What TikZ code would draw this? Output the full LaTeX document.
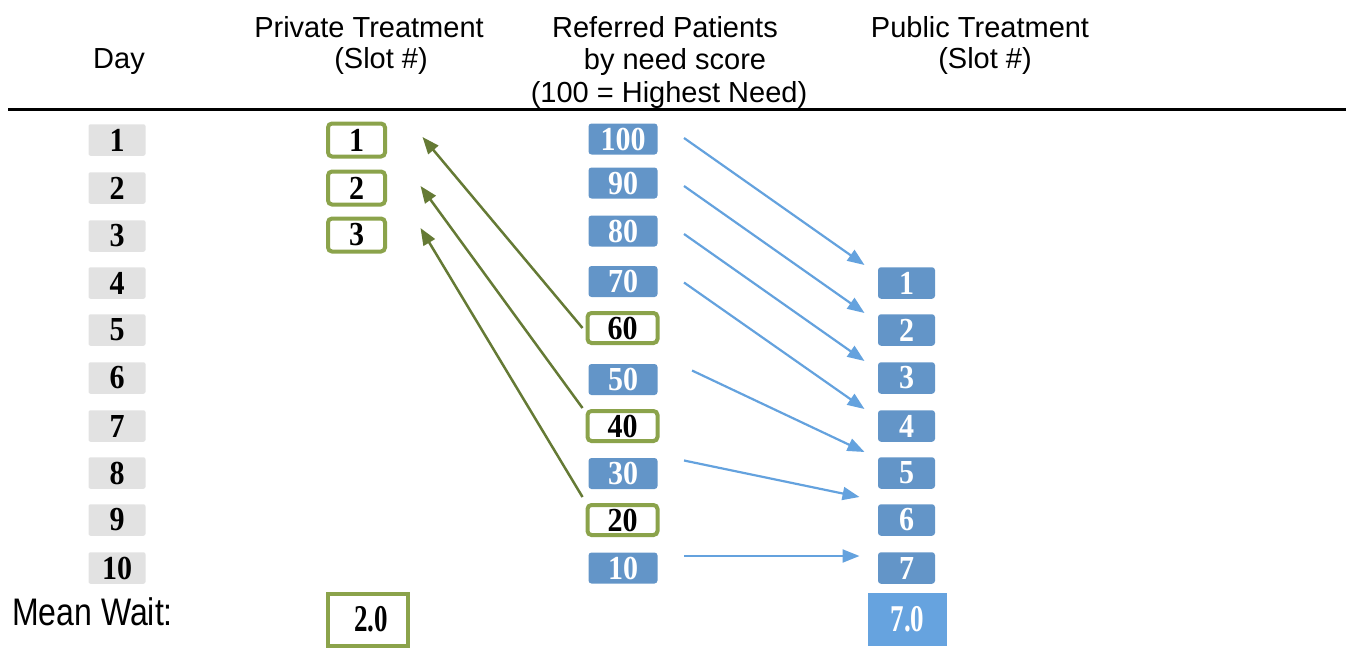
\documentclass[tikz,border=0pt]{standalone}
\usepackage{graphicx}
\usepackage{fontspec}
\setmainfont{Liberation Sans}
\newfontfamily\numf{Liberation Serif}
\usetikzlibrary{calc,arrows.meta}
\definecolor{daygray}{HTML}{E2E2E2}
\definecolor{grn}{HTML}{8BA34B}
\definecolor{grnarrow}{HTML}{657A35}
\definecolor{blu}{HTML}{6395C8}
\definecolor{bluarrow}{HTML}{64A2DE}
\definecolor{blumean}{HTML}{66A3DF}
\newcommand\vs[1]{\scalebox{1}[1.12]{#1}}
\newcommand\vm[1]{\scalebox{1}[1.4]{#1}}
\begin{document}
\begin{tikzpicture}[x=1pt,y=-1pt,
  hdr/.style={font=\fontsize{29}{33}\selectfont, inner sep=0pt, anchor=base},
  numtxt/.style={font=\numf\bfseries\fontsize{30}{30}\selectfont, inner sep=0pt},
  dayb/.style={numtxt, fill=daygray, rounded corners=2pt, minimum width=57pt, minimum height=31.5pt},
  privb/.style={numtxt, draw=grn, line width=4pt, fill=white, rounded corners=4pt, minimum width=57pt, minimum height=33pt},
  refb/.style={numtxt, fill=blu, text=white, rounded corners=3pt, minimum width=69pt, minimum height=31pt},
  refg/.style={numtxt, draw=grn, line width=4pt, fill=white, rounded corners=4pt, minimum width=70pt, minimum height=30pt},
  pubb/.style={numtxt, fill=blu, text=white, rounded corners=3pt, minimum width=57pt, minimum height=31.5pt},
  meantxt/.style={font=\numf\bfseries\fontsize{27}{27}\selectfont, inner sep=0pt},
  garrow/.style={draw=grnarrow, line width=2.5pt, -{Triangle[length=17pt,width=13pt]}},
  barrow/.style={draw=bluarrow, line width=2.2pt, -{Triangle[length=17pt,width=13pt]}}
]
\useasboundingbox (0,0) rectangle (1346,661);

% headers
\node[hdr] (hday) at (119,68) {Day};
\node[hdr] (hpriv1) at (369,37.5) {Private Treatment};
\node[hdr] (hpriv2) at (381,68) {(Slot \#)};
\node[hdr] (href1) at (665,37.5) {Referred Patients};
\node[hdr] (href2) at (675,70) {by need score};
\node[hdr] (href3) at (669,102) {(100 = Highest Need)};
\node[hdr] (hpub1) at (980,37.5) {Public Treatment};
\node[hdr] (hpub2) at (985,68) {(Slot \#)};
\coordinate (ruleL) at (8,109);
\coordinate (ruleR) at (1346,109);
\draw[line width=3pt] (ruleL) -- (ruleR);

% day column
\foreach \n/\y in {1/140,2/188,3/236,4/283,5/330,6/378,7/426,8/473,9/520,10/568}
  \node[dayb] (d\n) at (117,\y) {\vs{\n}};

% private
\node[privb] (pr1) at (356.5,140) {\vs{1}};
\node[privb] (pr2) at (356.5,188) {\vs{2}};
\node[privb] (pr3) at (356.5,235) {\vs{3}};

% referred
\node[refb] (r100) at (623,139) {\vs{100}};
\node[refb] (r90) at (623,183) {\vs{90}};
\node[refb] (r80) at (623,231) {\vs{80}};
\node[refb] (r70) at (623,281.5) {\vs{70}};
\node[refg] (r60) at (622.5,328) {\vs{60}};
\node[refb] (r50) at (623,379.5) {\vs{50}};
\node[refg] (r40) at (622.5,426) {\vs{40}};
\node[refb] (r30) at (623,473.5) {\vs{30}};
\node[refg] (r20) at (622.5,520) {\vs{20}};
\node[refb] (r10) at (623,568) {\vs{10}};

% public
\foreach \n/\y in {1/283,2/330,3/378,4/426,5/473,6/520,7/568}
  \node[pubb] (p\n) at (906.5,\y) {\vs{\n}};

% mean wait
\node[font=\fontsize{32}{34}\selectfont, inner sep=0pt, anchor=base west] (mw) at (12,625) {\scalebox{1}[1.2]{Mean Wait:}};
\node[draw=grn, line width=4pt, fill=white, minimum width=80pt, minimum height=52pt] (mpriv) at (368,620) {};
\node[meantxt] (mprivt) at (371,619) {\vm{2.0}};
\node[fill=blumean, minimum width=79pt, minimum height=53pt] (mpub) at (907.5,619.5) {};
\node[meantxt, text=white] (mpubt) at (907.5,619) {\vm{7.0}};

% green arrows
\draw[garrow] ($(r60.center)+(-40,0)$) -- ($(pr1.center)+(66,-3)$);
\draw[garrow] ($(r40.center)+(-40,-18)$) -- ($(pr2.center)+(64,-2)$);
\draw[garrow] ($(r20.center)+(-40,-23)$) -- ($(pr3.center)+(64,-7)$);

% blue arrows
\draw[barrow] ($(r100.center)+(61,-1)$) -- ($(p1.center)+(-42,-18)$);
\draw[barrow] ($(r90.center)+(61,3)$) -- ($(p2.center)+(-42,-17)$);
\draw[barrow] ($(r80.center)+(61,3)$) -- ($(p3.center)+(-42,-17)$);
\draw[barrow] ($(r70.center)+(61,1)$) -- ($(p4.center)+(-42,-17)$);
\draw[barrow] ($(r50.center)+(69,-9)$) -- ($(p5.center)+(-42,-21)$);
\draw[barrow] ($(r30.center)+(61,-13)$) -- ($(p6.center)+(-47,-23)$);
\draw[barrow] ($(r10.center)+(61,-12)$) -- ($(p7.center)+(-47,-12)$);
\end{tikzpicture}
\end{document}
